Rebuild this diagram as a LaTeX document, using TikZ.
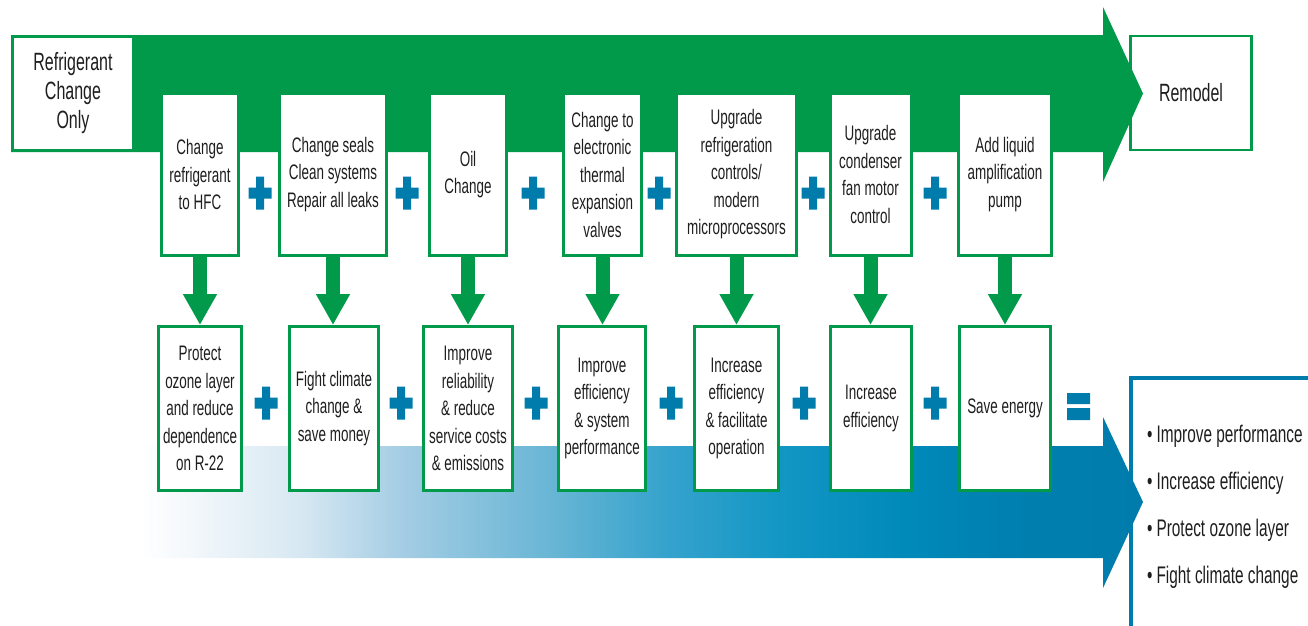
\documentclass[tikz,border=0pt]{standalone}
\usepackage{fontspec}
\setmainfont{Liberation Sans}[FakeStretch=0.64]
\usepackage{tikz}
\usetikzlibrary{arrows.meta}
\definecolor{leaf_green}{RGB}{0,154,74}
\definecolor{sea_blue}{RGB}{0,124,172}
\definecolor{ink}{RGB}{30,30,30}
\pgfdeclarehorizontalshading{blueflow}{100bp}{color(0bp)=(white); color(25bp)=(white);
	color(33bp)=(rgb,255:red,215;green,232;blue,242); color(38bp)=(rgb,255:red,165;green,205;blue,228);
	color(46bp)=(rgb,255:red,100;green,180;blue,212); color(51bp)=(rgb,255:red,55;green,163;blue,205);
	color(57bp)=(rgb,255:red,18;green,150;blue,196); color(63bp)=(rgb,255:red,0;green,138;blue,186);
	color(68bp)=(rgb,255:red,0;green,128;blue,176); color(75bp)=(sea_blue); color(100bp)=(sea_blue)}

\begin{document}
\begin{tikzpicture}[x=1pt,y=-1pt,
	stepbox/.style={draw=leaf_green,line width=3pt,fill=white,align=center,inner sep=0pt,minimum height=162pt,text=ink,font=\fontsize{21}{27.5}\selectfont},
	gainbox/.style={stepbox,minimum height=164pt},
	endbox/.style={stepbox,minimum height=114pt,font=\fontsize{25}{29}\selectfont},
	dropline/.style={leaf_green,line width=14pt,-{Triangle[length=31pt,width=32pt]}}]
	\useasboundingbox (0,0) rectangle (1308,625);

	% end boxes under the arrow tips
	\node[endbox,line width=2.5pt,minimum width=121pt] (remodel) at (1191,93) {Remodel};
	\node[draw=sea_blue,line width=4pt,anchor=north west,minimum width=200pt,minimum height=270pt,inner sep=0pt] (result) at (1129,376) {};

	% big arrows
	\fill[leaf_green] (11,35) -- (1103,35) -- (1103,7) -- (1143,93.5) -- (1103,182) -- (1103,152) -- (11,152) -- cycle;
	\shade[shading=blueflow] (140,446) -- (1103,446) -- (1103,417) -- (1143,502) -- (1103,588) -- (1103,558) -- (140,558) -- cycle;

	\node[endbox,minimum width=121pt] (only) at (73,93.5) {Refrigerant\\Change\\Only};

	% steps
	\node[stepbox,minimum width=77pt] (c1) at (200,174.5) {Change\\refrigerant\\to HFC};
	\node[stepbox,minimum width=107pt] (c2) at (333,174.5) {Change seals\\Clean systems\\Repair all leaks};
	\node[stepbox,minimum width=77pt] (c3) at (468,174.5) {Oil\\Change};
	\node[stepbox,minimum width=78pt] (c4) at (602.5,174.5) {Change to\\electronic\\thermal\\expansion\\valves};
	\node[stepbox,minimum width=120pt] (c5) at (736.5,174.5) {Upgrade\\refrigeration\\controls/\\modern\\microprocessors};
	\node[stepbox,minimum width=81pt] (c6) at (870.5,174.5) {Upgrade\\condenser\\fan motor\\control};
	\node[stepbox,minimum width=93pt] (c7) at (1005,174.5) {Add liquid\\amplification\\pump};

	% gains
	\node[gainbox,minimum width=83pt] (b1) at (200,408.5) {Protect\\ozone layer\\and reduce\\dependence\\on R-22};
	\node[gainbox,minimum width=89pt] (b2) at (334,408.5) {Fight climate\\change \&\\save money};
	\node[gainbox,minimum width=89pt] (b3) at (468,408.5) {Improve\\reliability\\\& reduce\\service costs\\\& emissions};
	\node[gainbox,minimum width=87pt] (b4) at (602,408.5) {Improve\\efficiency\\\& system\\performance};
	\node[gainbox,minimum width=84pt] (b5) at (736.5,408.5) {Increase\\efficiency\\\& facilitate\\operation};
	\node[gainbox,minimum width=81pt] (b6) at (871,408.5) {Increase\\efficiency};
	\node[gainbox,minimum width=91pt] (b7) at (1005,408.5) {Save energy};

	\foreach \n in {1,...,7}
		\draw[dropline] (c\n.south) -- (c\n.south |- b\n.north);

	% plus and equals signs
	\foreach \px/\py in {260/193,407/193,533/193,659/193,813/193,935/193,266/403,401/403,536/403,671/403,804/403,935/403}
		\fill[sea_blue] (\px-4,\py-16.5) rectangle ++(8,33) (\px-11.5,\py-5.5) rectangle ++(23,11);
	\fill[sea_blue] (1067,393) rectangle (1090,404) (1067,408) rectangle (1090,420);

	\foreach \txt [count=\n] in {Improve performance,Increase efficiency,Protect ozone layer,Fight climate change}
		\node[anchor=base west,inner sep=0pt,text=ink,font=\fontsize{24}{28}\selectfont] (gain\n) at (1147,395+47*\n) {\textbullet\,\txt};
\end{tikzpicture}
\end{document}
